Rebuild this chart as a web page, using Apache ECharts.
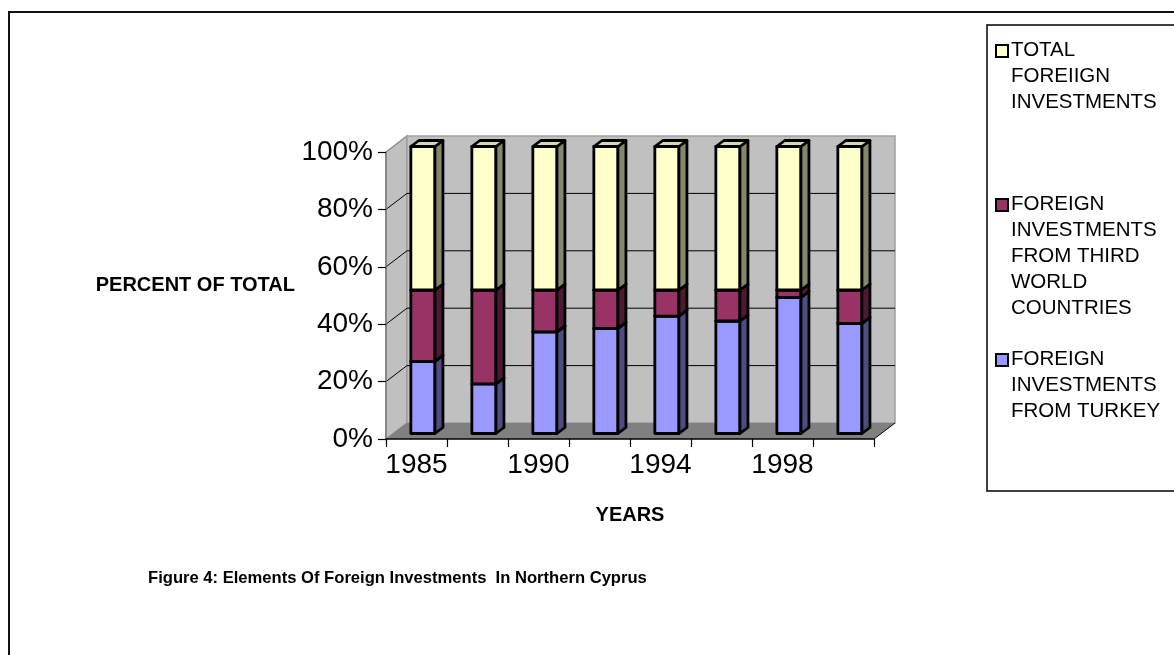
<!DOCTYPE html>
<html><head><meta charset="utf-8">
<script src="https://cdn.jsdelivr.net/npm/echarts@6/dist/echarts.min.js"></script>
<style>html,body{margin:0;padding:0;background:#fff}#c{width:1174px;height:655px}</style>
</head><body><div id="c"></div>
<script>
// ---- data ----
const categories = ['1985', '1988', '1990', '1992', '1994', '1996', '1998', '2000'];
const turkey = [25.1, 17.3, 35.4, 36.6, 40.9, 39.2, 47.4, 38.4];
const thirdWorld = [24.9, 32.7, 14.6, 13.4, 9.1, 10.8, 2.6, 11.6];
const totalForeign = [50, 50, 50, 50, 50, 50, 50, 50];
const yTicks = [0, 20, 40, 60, 80, 100];
const seriesNames = ['FOREIGN INVESTMENTS FROM TURKEY', 'FOREIGN INVESTMENTS FROM THIRD WORLD COUNTRIES', 'TOTAL FOREIIGN INVESTMENTS'];
const legendLines = [['TOTAL', 'FOREIIGN', 'INVESTMENTS'], ['FOREIGN', 'INVESTMENTS', 'FROM THIRD', 'WORLD', 'COUNTRIES'], ['FOREIGN', 'INVESTMENTS', 'FROM TURKEY']];
const yAxisTitle = 'PERCENT OF TOTAL';
const xAxisTitle = 'YEARS';
const caption = 'Figure 4: Elements Of Foreign Investments  In Northern Cyprus';

// ---- styles ----
const FONT = "'Liberation Sans', Arial, Helvetica, sans-serif";
const palette = [
  {front: '#9999ff', side: '#4d4d80', top: '#7a7acc'},
  {front: '#993366', side: '#4d1a33', top: '#7a2952'},
  {front: '#ffffcc', side: '#86866a', top: '#d8d8b0'}
];
const legendOrder = [2, 1, 0];
const WALL_DX = 21, WALL_DY = -16;
const BAR_OX = 6.4, BAR_OY = -5.5, BAR_DX = 8, BAR_DY = -6;

const stacks = [turkey, thirdWorld, totalForeign];
function stackData(k) {
  return categories.map((c, i) => {
    let base = 0;
    for (let j = 0; j < k; j++) base += stacks[j][i];
    return [i, base, base + stacks[k][i]];
  });
}

function renderWalls(params, api) {
  const cs = params.coordSys;
  const x = cs.x, y = cs.y, w = cs.width, h = cs.height;
  const children = [];
  children.push({type: 'polygon', shape: {points: [[x, y + h], [x, y], [x + WALL_DX, y + WALL_DY], [x + WALL_DX, y + h + WALL_DY]]},
    style: {fill: '#c0c0c0', stroke: '#8c8c8c', lineWidth: 1.5}});
  children.push({type: 'rect', shape: {x: x + WALL_DX, y: y + WALL_DY, width: w, height: h},
    style: {fill: '#c0c0c0', stroke: '#a0a0a0', lineWidth: 1.5}});
  yTicks.forEach(v => {
    if (v === 0 || v === yTicks[yTicks.length - 1]) return;
    const py = api.coord([0, v])[1];
    children.push({type: 'polyline', shape: {points: [[x, py], [x + WALL_DX, py + WALL_DY], [x + w + WALL_DX, py + WALL_DY]]},
      style: {fill: null, stroke: '#000', lineWidth: 1}});
  });
  children.push({type: 'polygon', shape: {points: [[x, y + h], [x + w, y + h], [x + w + WALL_DX, y + h + WALL_DY], [x + WALL_DX, y + h + WALL_DY]]},
    style: {fill: '#808080', stroke: null}});
  children.push({type: 'line', shape: {x1: x + w, y1: y + h, x2: x + w + WALL_DX, y2: y + h + WALL_DY},
    style: {stroke: '#000', lineWidth: 1}});
  return {type: 'group', children: children};
}

function makeBarRenderer(k) {
  return function (params, api) {
    const i = api.value(0), b = api.value(1), t = api.value(2);
    const p0 = api.coord([i, b]), p1 = api.coord([i, t]);
    const bw = api.size([1, 0])[0] * 0.395;
    const x0 = p0[0] + BAR_OX - bw / 2, x1 = x0 + bw;
    const yb = p0[1] + BAR_OY, yt = p1[1] + BAR_OY;
    const c = palette[k];
    const st = {stroke: '#000', lineWidth: 2.8, lineJoin: 'round'};
    return {type: 'group', children: [
      {type: 'rect', shape: {x: x0, y: yt, width: bw, height: yb - yt}, style: Object.assign({fill: c.front}, st)},
      {type: 'polygon', shape: {points: [[x1, yb], [x1, yt], [x1 + BAR_DX, yt + BAR_DY], [x1 + BAR_DX, yb + BAR_DY]]}, style: Object.assign({fill: c.side}, st)},
      {type: 'polygon', shape: {points: [[x0, yt], [x1, yt], [x1 + BAR_DX, yt + BAR_DY], [x0 + BAR_DX, yt + BAR_DY]]}, style: Object.assign({fill: c.top}, st)}
    ]};
  };
}

// legend graphics
const graphics = [
  {type: 'rect', shape: {x: 9, y: 12, width: 1200, height: 700}, style: {fill: null, stroke: '#111', lineWidth: 2}, z: 0},
  {type: 'rect', shape: {x: 987, y: 25, width: 220, height: 466}, style: {fill: '#fff', stroke: '#000', lineWidth: 1.5}, z: 1}
];
const legendTops = [43, 197, 352];
const LINE_H = 26;
legendOrder.forEach((k, idx) => {
  const top = legendTops[idx];
  graphics.push({type: 'rect', shape: {x: 996, y: top + 2, width: 12, height: 12},
    style: {fill: palette[k].front, stroke: '#000', lineWidth: 2}, z: 2});
  legendLines[idx].forEach((ln, j) => {
    graphics.push({type: 'text', x: 1011, y: top + j * LINE_H - 3,
      style: {text: ln, font: '20.5px ' + FONT, fill: '#000', textVerticalAlign: 'top'}, z: 2});
  });
});
graphics.push({type: 'text', x: 148, y: 570, style: {text: caption, font: 'bold 16.6px ' + FONT, fill: '#000'}, z: 2});

const chart = echarts.init(document.getElementById('c'), null, {renderer: 'canvas'});
chart.setOption({
  animation: false,
  backgroundColor: '#fff',
  textStyle: {fontFamily: FONT},
  grid: {left: 386, right: 300, top: 152, bottom: 216, containLabel: false},
  xAxis: {
    type: 'category', data: categories, z: 10,
    name: xAxisTitle, nameLocation: 'middle', nameGap: 66,
    nameTextStyle: {fontSize: 20, fontWeight: 'bold', color: '#000', fontFamily: FONT},
    axisLine: {lineStyle: {color: '#000', width: 1.5}},
    axisTick: {show: true, interval: 0, length: 8, lineStyle: {color: '#000', width: 1.2}},
    axisLabel: {interval: 1, fontSize: 28, color: '#000', margin: 12, fontFamily: FONT},
    splitLine: {show: false}
  },
  yAxis: {
    type: 'value', min: yTicks[0], max: yTicks[yTicks.length - 1], interval: 20, z: 10,
    name: yAxisTitle, nameLocation: 'middle', nameRotate: 0, nameGap: 91,
    nameTextStyle: {fontSize: 20, fontWeight: 'bold', color: '#000', fontFamily: FONT, align: 'right', verticalAlign: 'bottom'},
    axisLine: {show: true, lineStyle: {color: '#808080', width: 1.5}},
    axisTick: {show: true, length: 8, lineStyle: {color: '#000', width: 1.2}},
    axisLabel: {formatter: '{value}%', fontSize: 28, color: '#000', margin: 13, fontFamily: FONT},
    splitLine: {show: false}
  },
  graphic: graphics,
  series: [
    {type: 'custom', name: 'walls', renderItem: renderWalls, data: [[0, 0, 0]], z: 1, silent: true, encode: {x: 0, y: 1}},
    ...[0, 1, 2].map(k => ({
      type: 'custom', name: seriesNames[k], renderItem: makeBarRenderer(k), data: stackData(k),
      encode: {x: 0, y: [1, 2]}, z: 3, itemStyle: {color: palette[k].front}
    }))
  ]
});
</script>
</body></html>
